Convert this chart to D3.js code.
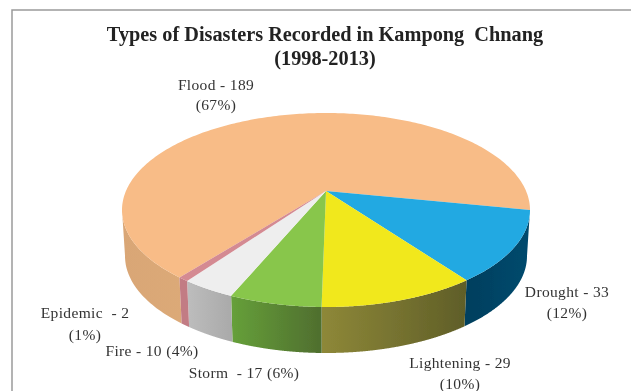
<!DOCTYPE html>
<html><head><meta charset="utf-8">
<script src="https://cdn.jsdelivr.net/npm/d3@7"></script>
<style>html,body{margin:0;padding:0;background:#fff}svg{display:block}</style></head>
<body><svg id="c" width="631" height="391"></svg>
<script>
const categories = ["Flood","Drought","Lightening","Storm","Fire","Epidemic"];
const values = [189,33,29,17,10,2];
const topColors = ["#f8bc87","#22a9e2","#f1e81b","#88c64b","#eeeeee","#d48a92"];
const sideStart = ["#d9a676","#033f5e","#8e8838","#66a03a","#bdbdbd","#c27c84"];
const sideEnd = ["#dcaa78","#054a6e","#5f5e28","#4f6e2e","#aaaaaa","#c27c84"];
const titleLines = ["Types of Disasters Recorded in Kampong  Chnang","(1998-2013)"];
const labels = [
  ["Flood - 189",216,90],["(67%)",216,110],
  ["Drought - 33",567,297],["(12%)",567,318],
  ["Lightening - 29",460,368],["(10%)",460,389],
  ["Storm  - 17 (6%)",244,378],
  ["Fire - 10 (4%)",152,356],
  ["Epidemic  - 2",85,318],["(1%)",85,340]
];
const svg = d3.select("#c");
const defs = svg.append("defs");
defs.append("filter").attr("id","soft").attr("x","-5%").attr("y","-5%").attr("width","110%").attr("height","110%")
  .append("feGaussianBlur").attr("stdDeviation",0.45);

const root = svg.append("g").attr("filter","url(#soft)");
root.append("path").attr("d","M12,391V10H631").attr("fill","none").attr("stroke","#9a9a9a").attr("stroke-width",1.5);

const sx = d3.scaleLinear().domain([-1,1]).range([122,530]);
const sy = d3.scaleLinear().domain([-1,1]).range([113,307]);
const sxB = d3.scaleLinear().domain([-1,1]).range([125,527]);
const depth = 46;
const k = -0.196;
const proj = a => {
  const u = Math.sin(a), v = -Math.cos(a), w = 1 + k*v;
  return [u*Math.sqrt(1-k*k)/w, (v+k)/w];
};
const apex = [0,k];

const startDeg = -141.7;
const pie = d3.pie().sort(null).startAngle(startDeg*Math.PI/180).endAngle((startDeg+360)*Math.PI/180);
const arcs = pie(values);
const line = d3.line();
const samples = d => d3.range(0,241).map(i => d.startAngle + (d.endAngle-d.startAngle)*i/240);

arcs.forEach((d,i)=>{
  let as = samples(d).map(proj);
  const xs = as.map(p=>sx(p[0]));
  const g = defs.append("linearGradient").attr("id","g"+i).attr("gradientUnits","userSpaceOnUse")
    .attr("x1",i===0?122:d3.min(xs)).attr("x2",i===0?190:d3.max(xs)).attr("y1",0).attr("y2",0);
  g.append("stop").attr("offset",0).attr("stop-color",sideStart[i]);
  g.append("stop").attr("offset",1).attr("stop-color",sideEnd[i]);
  // the flood wall is only seen up to the left-most rim point
  if (i===0) as = as.slice(0, d3.leastIndex(as,p=>p[0])+1);
  const pts = as.map(p=>[sx(p[0]),sy(p[1])]).concat(as.slice().reverse().map(p=>[sxB(p[0]),sy(p[1])+depth]));
  root.append("path").attr("d",line(pts)+"Z").attr("fill",`url(#g${i})`);
});
arcs.forEach((d,i)=>{
  const pts = [[sx(apex[0]),sy(apex[1])]].concat(samples(d).map(proj).map(p=>[sx(p[0]),sy(p[1])]));
  root.append("path").attr("d",line(pts)+"Z").attr("fill",topColors[i]).attr("class",categories[i]);
});
root.selectAll("text.t").data(titleLines).join("text").attr("class","t")
  .attr("x",325).attr("y",(d,i)=>41+i*24).attr("text-anchor","middle")
  .attr("font-family","'Liberation Serif',serif").attr("font-weight","bold").attr("font-size",20.3)
  .attr("fill","#222").style("white-space","pre").text(d=>d);
root.selectAll("text.l").data(labels).join("text").attr("class","l")
  .attr("x",d=>d[1]).attr("y",d=>d[2]).attr("text-anchor","middle")
  .attr("font-family","'Liberation Serif',serif").attr("font-size",15.5).attr("letter-spacing",0.35)
  .attr("fill","#333").style("white-space","pre").text(d=>d[0]);
</script></body></html>
